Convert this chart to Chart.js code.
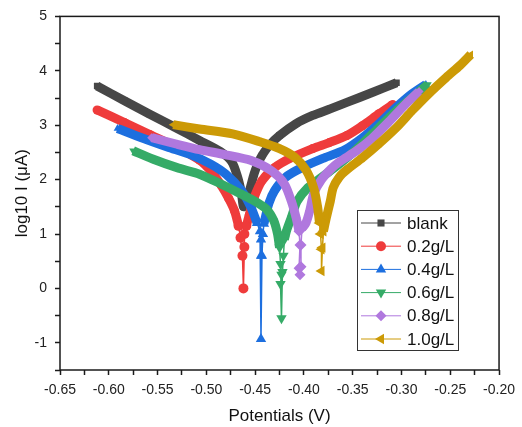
<!DOCTYPE html>
<html>
<head>
<meta charset="utf-8">
<script src="https://cdn.jsdelivr.net/npm/chart.js@4.4.0/dist/chart.umd.min.js"></script>
<style>
    body { margin: 0; background: #fff; }
</style>
</head>
<body>
<canvas id="tafelChart" width="522" height="427"></canvas>
<script>
// Nazwy serii i kolory (jak w legendzie)
const seriesNames = ["blank", "0.2g/L", "0.4g/L", "0.6g/L", "0.8g/L", "1.0g/L"];
const seriesColors = ["#474747", "#ef3b3b", "#1d6fdf", "#35ab67", "#b078de", "#cc9a06"];
const seriesMarkers = [
    { style: "rect", rotation: 0, size: 5 },
    { style: "circle", rotation: 0, size: 5 },
    { style: "triangle", rotation: 0, size: 6 },
    { style: "triangle", rotation: 180, size: 6 },
    { style: "rectRot", rotation: 0, size: 5.5 },
    { style: "triangle", rotation: -90, size: 6 }
];

// Punkty [potencjal V, log10 I] - gesta czesc krzywej
const blankBand = [[-0.612,3.72],[-0.584,3.45],[-0.558,3.20],[-0.532,2.96],[-0.507,2.72],[-0.486,2.52],[-0.474,2.33],[-0.468,2.05],[-0.464,1.75],[-0.462,1.50],
    [-0.459,1.60],[-0.455,1.85],[-0.451,2.11],[-0.447,2.30],[-0.443,2.44],[-0.436,2.62],[-0.425,2.81],[-0.408,3.03],[-0.391,3.18],[-0.373,3.30],[-0.356,3.42],[-0.330,3.60],[-0.305,3.78]];
const redBand = [[-0.612,3.28],[-0.584,3.05],[-0.558,2.83],[-0.532,2.61],[-0.507,2.36],[-0.495,2.15],[-0.485,1.90],[-0.477,1.65],[-0.471,1.42],[-0.467,1.15],
    null,
    [-0.459,1.15],[-0.456,1.35],[-0.451,1.67],[-0.443,1.98],[-0.430,2.22],[-0.413,2.40],[-0.391,2.57],[-0.374,2.68],[-0.356,2.81],[-0.340,2.99],[-0.323,3.21],[-0.309,3.38]];
const blueBand = [[-0.591,2.94],[-0.565,2.76],[-0.540,2.60],[-0.515,2.45],[-0.495,2.28],[-0.480,2.10],[-0.464,1.80],[-0.454,1.48],[-0.448,1.20],
    null,
    [-0.441,1.19],[-0.436,1.56],[-0.430,1.80],[-0.419,2.04],[-0.402,2.22],[-0.379,2.40],[-0.358,2.55],[-0.340,2.77],[-0.323,3.03],[-0.306,3.32],[-0.289,3.58],[-0.275,3.75]];
const greenBand = [[-0.575,2.53],[-0.555,2.38],[-0.530,2.22],[-0.507,2.10],[-0.485,1.92],[-0.465,1.74],[-0.450,1.60],[-0.438,1.45],[-0.431,1.25],[-0.427,1.00],[-0.425,0.75],
    null,
    [-0.420,0.90],[-0.418,1.05],[-0.413,1.30],[-0.407,1.60],[-0.396,1.85],[-0.382,2.04],[-0.370,2.20],[-0.356,2.40],[-0.340,2.66],[-0.323,2.96],[-0.305,3.27],[-0.289,3.51],[-0.273,3.75]];
const purpleBand = [[-0.556,2.77],[-0.530,2.65],[-0.507,2.55],[-0.481,2.46],[-0.454,2.35],[-0.433,2.16],[-0.420,1.92],[-0.413,1.61],[-0.408,1.30],[-0.405,1.05],
    null,
    [-0.402,1.10],[-0.398,1.20],[-0.394,1.43],[-0.390,1.74],[-0.382,2.00],[-0.372,2.20],[-0.364,2.32],[-0.346,2.53],[-0.330,2.76],[-0.312,3.08],[-0.295,3.40],[-0.282,3.62]];
const goldBand = [[-0.534,3.01],[-0.507,2.93],[-0.473,2.84],[-0.446,2.70],[-0.425,2.57],[-0.410,2.42],[-0.398,2.18],[-0.390,1.85],[-0.386,1.50],[-0.384,1.20],
    null,
    [-0.380,1.05],[-0.377,1.30],[-0.373,1.60],[-0.370,1.85],[-0.364,2.04],[-0.356,2.18],[-0.340,2.40],[-0.323,2.66],[-0.305,2.96],[-0.289,3.27],[-0.272,3.58],[-0.254,3.88],[-0.240,4.10],[-0.229,4.30]];

// Rzadkie punkty przy potencjale korozyjnym (cienka linia + znaczniki)
const blankTail = [];
const redTail = [[-0.467,1.15],[-0.465,0.93],[-0.463,0.60],[-0.462,0.00],[-0.461,0.76],[-0.461,1.00],[-0.459,1.15]];
const blueTail = [[-0.448,1.20],[-0.445,1.05],[-0.444,0.90],[-0.444,0.60],[-0.444,-0.93],[-0.443,0.60],[-0.442,1.00],[-0.441,1.19]];
const greenTail = [[-0.425,0.75],[-0.424,0.45],[-0.423,0.25],[-0.424,0.08],[-0.423,-0.55],[-0.422,0.30],[-0.421,0.60],[-0.420,0.90]];
const purpleTail = [[-0.405,1.05],[-0.404,0.80],[-0.405,0.37],[-0.404,0.25],[-0.403,0.40],[-0.403,0.80],[-0.402,1.10]];
const goldTail = [[-0.384,1.20],[-0.383,1.00],[-0.382,0.72],[-0.382,0.32],[-0.381,0.75],[-0.380,1.05]];

// Osie
const xMin = -0.65, xMax = -0.20, xStep = 0.025;
const yMin = -1.5, yMax = 5, yStep = 0.5;
const xTitle = "Potentials (V)";
const yTitle = "log10 I (μA)";

const bands = [blankBand, redBand, blueBand, greenBand, purpleBand, goldBand];
const tails = [blankTail, redTail, blueTail, greenTail, purpleTail, goldTail];

function toPoints(arr) {
    return arr.map(p => p ? { x: p[0], y: p[1] } : { x: null, y: null });
}

const datasets = [];
seriesNames.forEach((name, i) => {
    datasets.push({
        label: name,
        data: toPoints(bands[i]),
        showLine: true,
        spanGaps: false,
        tension: 0.25,
        borderColor: seriesColors[i],
        backgroundColor: seriesColors[i],
        borderWidth: 9,
        borderJoinStyle: "round",
        pointStyle: seriesMarkers[i].style,
        rotation: seriesMarkers[i].rotation,
        pointRadius: 4.5,
        pointBorderWidth: 0,
        order: 10 - i
    });
    if (tails[i].length) {
        datasets.push({
            label: name + " tail",
            data: toPoints(tails[i]),
            showLine: true,
            borderColor: seriesColors[i],
            backgroundColor: seriesColors[i],
            borderWidth: 1.5,
            pointStyle: seriesMarkers[i].style,
            rotation: seriesMarkers[i].rotation,
            pointRadius: seriesMarkers[i].size,
            pointBorderWidth: 0,
            order: 10 - i
        });
    }
});

// Ramka wokol obszaru wykresu
const framePlugin = {
    id: "frame",
    afterDraw(chart) {
        const { ctx, chartArea: a } = chart;
        ctx.save();
        ctx.strokeStyle = "#1a1a1a";
        ctx.lineWidth = 1.5;
        ctx.strokeRect(a.left, a.top, a.right - a.left, a.bottom - a.top);
        ctx.restore();
    }
};

// Legenda rysowana recznie w prawym dolnym rogu
const legendPlugin = {
    id: "boxLegend",
    afterDraw(chart) {
        const ctx = chart.ctx;
        const x0 = 357, y0 = 210, w = 101, h = 140;
        const rowH = 23.2, firstRow = 223;
        ctx.save();
        ctx.fillStyle = "#fff";
        ctx.fillRect(x0, y0, w, h);
        ctx.strokeStyle = "#333";
        ctx.lineWidth = 1;
        ctx.strokeRect(x0 + 0.5, y0 + 0.5, w, h);
        ctx.font = "17px 'Liberation Sans', Arial, sans-serif";
        ctx.textBaseline = "middle";
        seriesNames.forEach((name, i) => {
            const y = firstRow + i * rowH;
            ctx.strokeStyle = seriesColors[i];
            ctx.lineWidth = 1;
            ctx.beginPath();
            ctx.moveTo(x0 + 4, y);
            ctx.lineTo(x0 + 44, y);
            ctx.stroke();
            ctx.fillStyle = seriesColors[i];
            Chart.helpers.drawPoint(ctx, {
                pointStyle: seriesMarkers[i].style,
                rotation: seriesMarkers[i].rotation,
                radius: seriesMarkers[i].size,
                borderWidth: 0
            }, x0 + 24, y);
            ctx.fillStyle = "#111";
            ctx.fillText(name, x0 + 50, y + 1);
        });
        ctx.restore();
    }
};

const ctx = document.getElementById("tafelChart").getContext("2d");
const tafelChart = new Chart(ctx, {
    type: "scatter",
    data: { datasets: datasets },
    options: {
        responsive: false,
        animation: false,
        devicePixelRatio: 1,
        layout: { padding: { left: 0, right: 22, top: 16, bottom: 0 } },
        plugins: {
            legend: { display: false },
            tooltip: { enabled: false }
        },
        scales: {
            x: {
                type: "linear",
                min: xMin, max: xMax,
                afterFit(scale) { scale.height = 57; },
                border: { display: false },
                grid: { drawOnChartArea: false, drawTicks: true, tickLength: 5, tickColor: "#1a1a1a", tickWidth: 1.5 },
                ticks: {
                    stepSize: xStep,
                    autoSkip: false,
                    maxRotation: 0,
                    padding: 7,
                    color: "#222",
                    font: { family: "'Liberation Sans', Arial, sans-serif", size: 14 },
                    callback: v => Math.abs(Math.round(v * 1000) % 50) === 0 ? v.toFixed(2) : ""
                },
                title: {
                    display: true, text: xTitle, color: "#111",
                    padding: { top: 0, bottom: 0 },
                    font: { family: "'Liberation Sans', Arial, sans-serif", size: 17 }
                }
            },
            y: {
                type: "linear",
                min: yMin, max: yMax,
                afterFit(scale) { scale.width = 60; },
                border: { display: false },
                grid: { drawOnChartArea: false, drawTicks: true, tickLength: 5, tickColor: "#1a1a1a", tickWidth: 1.5 },
                ticks: {
                    stepSize: yStep,
                    autoSkip: false,
                    padding: 8,
                    color: "#222",
                    font: { family: "'Liberation Sans', Arial, sans-serif", size: 14 },
                    callback: v => Math.abs(v - Math.round(v)) < 1e-6 ? String(Math.round(v)) : ""
                },
                title: {
                    display: true, text: yTitle, color: "#111",
                    padding: { top: 12, bottom: 0 },
                    font: { family: "'Liberation Sans', Arial, sans-serif", size: 17 }
                }
            }
        }
    },
    plugins: [framePlugin, legendPlugin]
});
</script>
</body>
</html>
